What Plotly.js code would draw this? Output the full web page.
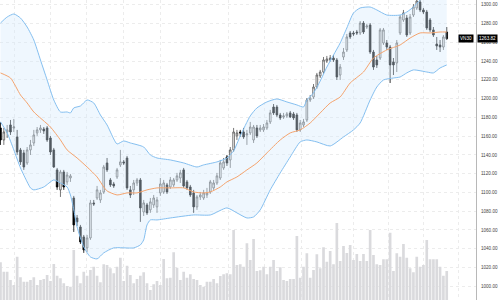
<!DOCTYPE html>
<html>
<head>
<meta charset="utf-8">
<script src="https://cdn.plot.ly/plotly-3.0.1.min.js"></script>
<style>html,body{margin:0;padding:0;background:#fff}#chart{width:501px;height:300px}</style>
</head>
<body>
<div id="chart"></div>
<script>
const symbol = "VN30";
const open = [1168.7,1155.9,1164.4,1171.9,1168.7,1159.1,1145.3,1142.1,1131.4,1145.3,
1152.7,1163.4,1166.6,1167.6,1168.7,1158.0,1145.3,1124.0,1102.7,1121.8,
1111.2,1115.4,1094.1,1072.8,1063.2,1052.6,1040.9,1051.5,1088.8,1094.1,
1092.0,1100.5,1131.4,1113.3,1109.0,1116.5,1129.3,1132.5,1136.7,1102.7,
1102.7,1110.1,1113.3,1079.2,1086.7,1081.4,1086.7,1084.6,1099.5,1100.5,
1108.0,1105.8,1108.0,1113.3,1115.4,1124.0,1111.2,1105.8,1099.5,1084.6,
1095.2,1094.1,1097.3,1100.5,1104.8,1110.1,1115.4,1126.1,1137.8,1134.6,
1145.3,1160.2,1164.4,1164.4,1161.2,1163.4,1155.9,1168.7,1166.6,1166.6,
1168.7,1175.1,1191.0,1191.0,1182.5,1180.4,1181.5,1184.7,1183.6,1182.5,
1166.6,1171.9,1177.2,1198.5,1201.7,1212.3,1224.1,1228.3,1240.0,1241.1,
1243.2,1241.1,1225.1,1244.3,1251.8,1269.9,1269.9,1270.9,1269.9,1280.5,
1276.2,1278.4,1249.6,1241.1,1243.2,1259.2,1259.2,1254.9,1239.0,1237.9,
1269.9,1283.7,1285.8,1269.9,1289.0,1296.5,1302.9,1294.4,1292.2,1283.7,
1273.1,1258.1,1257.1,1254.9,1270.9];
const high = [1175.1,1168.7,1171.9,1177.2,1178.3,1166.6,1147.4,1145.3,1148.4,1155.9,
1166.6,1169.7,1171.9,1169.7,1170.8,1160.2,1147.4,1126.1,1124.0,1124.0,
1121.8,1119.7,1096.3,1076.0,1065.4,1054.7,1054.7,1092.0,1092.0,1106.9,
1102.7,1129.3,1136.7,1115.4,1111.2,1126.1,1145.3,1134.6,1138.9,1106.9,
1113.3,1115.4,1115.4,1092.0,1088.8,1094.1,1097.3,1095.2,1115.4,1113.3,
1110.1,1116.5,1115.4,1120.8,1124.0,1126.1,1113.3,1108.0,1102.7,1097.3,
1100.5,1102.7,1104.8,1113.3,1113.3,1120.8,1134.6,1136.7,1139.9,1148.4,
1168.7,1166.6,1166.6,1168.7,1166.6,1175.1,1171.9,1171.9,1171.9,1172.9,
1177.2,1187.9,1194.2,1193.2,1184.7,1184.7,1185.7,1186.8,1185.7,1184.7,
1177.2,1178.3,1200.6,1203.8,1215.5,1227.3,1230.5,1244.3,1245.4,1246.4,
1246.4,1243.2,1236.8,1253.9,1268.8,1272.0,1272.0,1273.1,1282.6,1282.6,
1279.4,1280.5,1251.8,1245.4,1275.2,1275.2,1262.4,1257.1,1243.2,1262.4,
1289.0,1294.4,1289.0,1290.1,1300.7,1307.2,1306.0,1296.5,1294.4,1285.8,
1276.2,1265.6,1262.4,1267.7,1276.2];
const low = [1150.6,1150.6,1158.0,1161.2,1164.4,1139.9,1129.3,1124.0,1129.3,1139.9,
1149.5,1160.2,1163.4,1162.3,1153.8,1139.9,1126.1,1102.7,1095.2,1102.7,
1108.0,1111.2,1057.9,1064.3,1045.1,1035.6,1036.6,1049.4,1085.6,1092.0,
1088.8,1098.4,1121.8,1105.8,1104.8,1114.4,1127.1,1129.3,1102.7,1094.1,
1097.3,1106.9,1068.6,1074.9,1076.0,1078.2,1083.5,1078.2,1096.3,1098.4,
1098.4,1103.7,1105.8,1111.2,1110.1,1104.8,1102.7,1095.2,1078.2,1081.4,
1092.0,1092.0,1094.1,1098.4,1102.7,1108.0,1113.3,1124.0,1128.2,1126.1,
1143.1,1155.9,1159.1,1157.0,1150.6,1161.2,1152.7,1158.0,1164.4,1164.4,
1166.6,1172.9,1182.5,1180.4,1177.2,1178.3,1179.3,1179.3,1177.2,1164.4,
1164.4,1169.7,1175.1,1196.4,1199.6,1210.2,1221.9,1226.2,1237.9,1239.0,
1239.0,1219.8,1219.8,1241.1,1249.6,1263.5,1266.7,1267.7,1267.7,1268.8,
1274.1,1247.5,1230.5,1232.6,1241.1,1257.1,1251.8,1216.6,1225.1,1228.3,
1267.7,1281.6,1265.6,1267.7,1286.9,1294.4,1292.2,1290.1,1273.1,1270.9,
1265.6,1251.8,1249.6,1251.8,1262.4];
const close = [1155.9,1164.4,1166.6,1164.4,1169.7,1143.1,1132.5,1127.1,1145.3,1150.6,
1161.2,1166.6,1168.7,1165.5,1155.9,1143.1,1127.1,1105.8,1121.8,1105.8,
1118.6,1117.6,1065.4,1068.6,1047.3,1038.8,1051.5,1088.8,1087.7,1102.7,
1099.5,1127.1,1124.0,1108.0,1106.9,1124.0,1132.5,1131.4,1104.8,1097.3,
1110.1,1113.3,1083.5,1088.8,1078.2,1089.9,1094.1,1092.0,1109.0,1110.1,
1100.5,1113.3,1113.3,1117.6,1120.8,1106.9,1104.8,1097.3,1084.6,1095.2,
1097.3,1099.5,1099.5,1111.2,1110.1,1117.6,1131.4,1132.5,1131.4,1145.3,
1164.4,1163.4,1163.4,1159.1,1162.3,1169.7,1169.7,1160.2,1168.7,1169.7,
1174.0,1184.7,1184.7,1182.5,1179.3,1181.5,1183.6,1180.4,1179.3,1166.6,
1174.0,1175.1,1198.5,1200.6,1212.3,1225.1,1228.3,1241.1,1242.2,1243.2,
1241.1,1223.0,1233.6,1249.6,1265.6,1265.6,1268.8,1269.9,1280.5,1270.9,
1277.3,1249.6,1233.6,1235.8,1273.1,1273.1,1254.9,1235.8,1235.8,1259.2,
1286.9,1291.2,1267.7,1286.9,1297.5,1303.9,1294.4,1292.2,1275.2,1273.1,
1267.7,1256.0,1254.9,1265.6,1263.82];
const volume = [151,113,113,80,60,173,91,73,73,80,
91,60,80,84,100,76,144,97,87,67,
56,53,200,97,67,113,97,120,133,97,
71,143,140,127,107,133,169,76,137,100,
67,84,97,111,67,40,63,76,60,164,
87,89,191,129,80,113,89,103,84,80,
60,53,73,73,84,67,96,103,107,103,
280,140,143,133,227,160,244,116,119,133,
103,133,160,116,131,80,76,84,84,256,
89,133,187,89,120,183,127,211,153,196,
143,308,156,216,188,220,160,184,156,184,
156,280,180,143,140,163,163,269,116,187,
173,224,169,127,111,173,133,140,240,163,
163,163,133,97,116];

const upperIdx = [0,2,4,6,8,10,12,14,16,18,20,21,22,24,26,28,30,32,34,35,37,39,43,45,47,51,55,59,61,65,68,70,72,75,77,80,83,86,89,91,92,94,96,98,100,102,104,106,108,111,113,116,120,122,124,126,128,131,134];
const upperBand = [1280.5,1286.9,1290.1,1285.8,1276.2,1262.4,1241.1,1219.8,1198.5,1185.7,1185.7,1184.7,1190.0,1192.1,1198.5,1195.3,1182.5,1171.9,1157.0,1151.6,1154.8,1152.7,1148.4,1139.9,1136.7,1134.6,1131.4,1127.1,1129.3,1132.5,1136.7,1144.2,1160.2,1181.5,1190.0,1196.4,1199.6,1196.4,1193.2,1191.0,1198.5,1206.0,1218.7,1233.6,1246.4,1259.2,1275.2,1291.2,1296.5,1297.5,1294.4,1289.0,1289.0,1292.2,1297.5,1305.0,1310.0,1313.5,1313.5];
const lowerIdx = [0,2,4,6,8,9,10,13,16,18,20,21,22,23,25,27,29,31,34,40,42,43,44,45,47,51,58,63,68,71,74,76,78,81,84,87,90,92,95,99,103,106,108,111,113,115,118,120,122,124,128,130,132,134];
const lowerBand = [1175.1,1163.4,1145.3,1126.1,1111.2,1104.8,1102.7,1105.8,1113.3,1110.1,1105.8,1097.3,1081.4,1063.2,1041.9,1031.3,1029.2,1035.6,1040.9,1040.9,1044.1,1049.4,1065.4,1070.7,1070.7,1072.8,1076.0,1076.0,1083.5,1078.2,1072.8,1073.9,1081.4,1102.7,1120.8,1137.8,1153.8,1155.9,1153.8,1149.5,1159.1,1166.6,1174.0,1198.5,1212.3,1219.8,1221.9,1223.0,1227.3,1230.5,1228.3,1227.3,1232.6,1235.8];
const midIdx = [0,3,6,8,10,15,18,20,23,26,29,31,32,35,38,41,44,47,51,55,58,61,63,66,68,71,74,77,80,84,87,90,93,96,99,102,105,109,112,116,120,123,126,129,132,134];
const midBand = [1227.3,1221.9,1203.8,1195.3,1185.7,1169.7,1155.9,1145.3,1136.7,1127.1,1116.5,1105.8,1101.6,1097.3,1099.5,1099.5,1102.7,1104.8,1104.8,1104.8,1100.5,1099.5,1100.5,1105.8,1111.2,1116.5,1124.0,1131.4,1142.1,1155.9,1163.4,1166.6,1174.0,1184.7,1195.3,1201.7,1216.6,1228.3,1243.2,1251.8,1257.1,1264.5,1269.9,1269.9,1270.9,1270.9];

const idx = close.map((_, i) => i);
const lastClose = close[close.length - 1];

const traces = [
  {type:'bar', x:idx, y:volume, xaxis:'x', yaxis:'y', marker:{color:'#dadadd', line:{width:0}}, hoverinfo:'skip'},
  {type:'scatter', mode:'lines', x:lowerIdx, y:lowerBand, yaxis:'y2', line:{color:'#84bff0', width:1, shape:'spline', smoothing:0.6}, hoverinfo:'skip'},
  {type:'scatter', mode:'lines', x:upperIdx, y:upperBand, yaxis:'y2', fill:'tonexty', fillcolor:'rgba(214,234,252,0.38)', line:{color:'#84bff0', width:1, shape:'spline', smoothing:0.6}, hoverinfo:'skip'},
  {type:'scatter', mode:'lines', x:midIdx, y:midBand, yaxis:'y2', line:{color:'#f5a46e', width:1, shape:'spline', smoothing:0.6}, hoverinfo:'skip'},
  {type:'candlestick', x:idx, open:open, high:high, low:low, close:close, yaxis:'y2',
   increasing:{line:{color:'#555555', width:0.8}, fillcolor:'#ffffff'},
   decreasing:{line:{color:'#000000', width:0.8}, fillcolor:'#000000'},
   whiskerwidth:0, hoverinfo:'skip'}
];

const layout = {
  width:501, height:300,
  margin:{l:0, r:25, t:0, b:0, pad:0},
  paper_bgcolor:'#ffffff', plot_bgcolor:'#ffffff',
  showlegend:false, bargap:0.2, boxgap:0.3,
  font:{family:'Liberation Sans, Arial, sans-serif'},
  xaxis:{range:[-0.15, 142.79], tickvals:[4.35,15.1,25.9,36.9,47.9,68.4,79.4,90.45,105.9,116.5,127,137.5],
         showticklabels:false, ticks:'', showgrid:true, gridcolor:'#ececec', griddash:'dot', gridwidth:1,
         zeroline:false, showline:false, rangeslider:{visible:false}, fixedrange:true},
  yaxis:{range:[0,1200], visible:false, showgrid:false, zeroline:false, fixedrange:true},
  yaxis2:{overlaying:'y', side:'right', range:[985.4,1305], tick0:1000, dtick:20, tickformat:'.2f',
          showgrid:true, gridcolor:'#ececec', griddash:'dot', gridwidth:1,
          showline:true, linecolor:'#b8b8b8', linewidth:1, ticks:'', ticklabelstandoff:3,
          tickfont:{size:4.6, color:'#444444', family:'Liberation Sans, Arial, sans-serif'},
          zeroline:false, fixedrange:true},
  annotations:[
    {xref:'paper', yref:'y2', x:1, y:lastClose, xanchor:'left', yanchor:'middle', xshift:1,
     text:lastClose.toFixed(2), showarrow:false, bgcolor:'#000000', borderpad:1,
     font:{size:4.6, color:'#ffffff', family:'Liberation Sans, Arial, sans-serif'}},
    {xref:'paper', yref:'y2', x:1, y:lastClose, xanchor:'right', yanchor:'middle', xshift:-2,
     text:symbol, showarrow:false, bgcolor:'#000000', borderpad:1,
     font:{size:4.6, color:'#ffffff', family:'Liberation Sans, Arial, sans-serif'}}
  ]
};

Plotly.newPlot('chart', traces, layout, {displayModeBar:false, staticPlot:true});
</script>
</body>
</html>
